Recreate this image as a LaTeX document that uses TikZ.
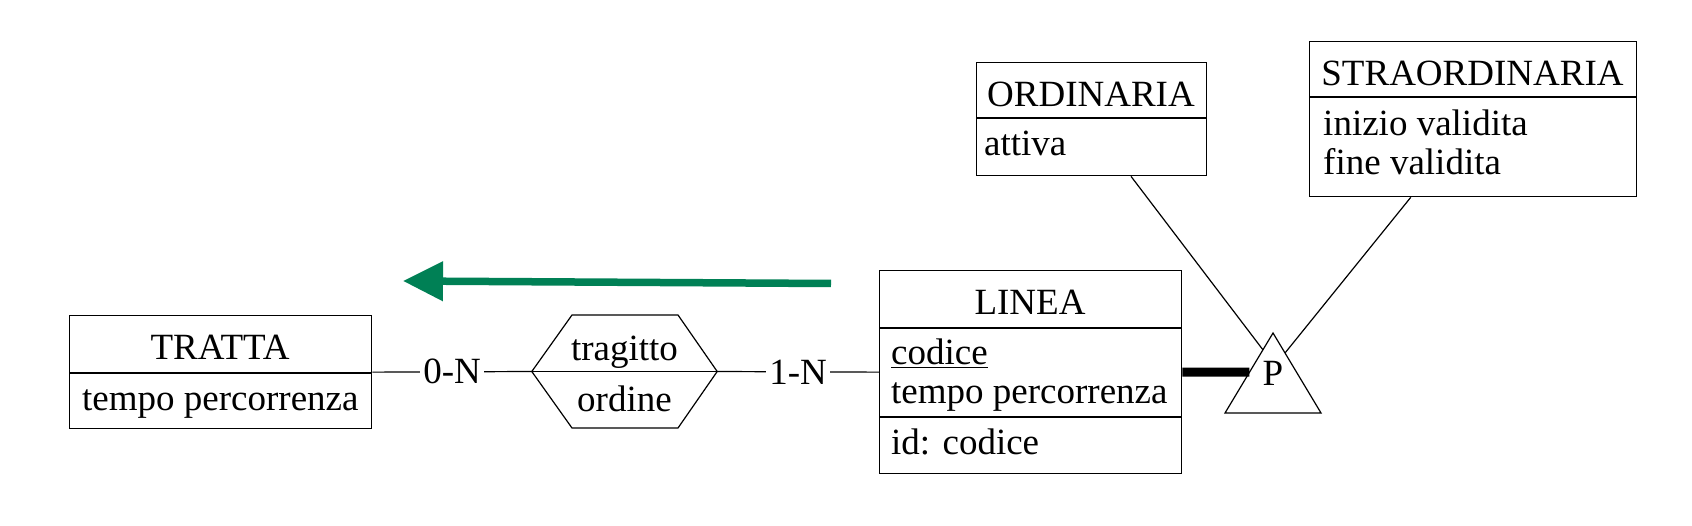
\documentclass[tikz,border=0pt]{standalone}
\usepackage{fontspec}
\setmainfont{Liberation Serif}
\usetikzlibrary{arrows.meta,calc}
\definecolor{arrowgreen}{RGB}{0,128,85}
\begin{document}
\begin{tikzpicture}[x=1pt,y=-1pt,
  font=\fontsize{37}{44}\selectfont,
  box/.style={draw, line width=1.3pt, inner sep=0pt, anchor=north west},
  ttl/.style={inner sep=0pt, anchor=base},
  attr/.style={inner sep=0pt, anchor=base west},
  conn/.style={line width=1.2pt},
  card/.style={fill=white, inner sep=3pt},
  thickconn/.style={line width=9pt},
  bigarrow/.style={line width=7.5pt, draw=arrowgreen, -{Triangle[length=40pt,width=38pt]}}]
\useasboundingbox (0,0) rectangle (1692,526);

% TRATTA
\node[box, minimum width=302pt, minimum height=113pt] (tratta) at (69,315) {};
\draw[conn] (69,373) -- (371,373);
\node[ttl] (trattaT) at (220,360) {TRATTA};
\node[attr] (trattaA) at (82,410) {tempo percorrenza};

% relationship tragitto
\node[minimum width=185pt, minimum height=113pt, inner sep=0pt] (hex) at (624.5,371.5) {};
\draw[conn] (hex.west) -- (572,315) -- (678,315) -- (hex.east) -- (678,428) -- (572,428) -- cycle;
\draw[conn] (hex.west) -- (hex.east);
\node[ttl] (hexT) at (624.5,361) {tragitto};
\node[ttl] (hexA) at (624.5,411) {ordine};

% LINEA
\node[box, minimum width=302pt, minimum height=203pt] (linea) at (879,270) {};
\draw[conn] (879,328) -- (1181,328);
\draw[conn] (879,417) -- (1181,417);
\node[ttl] (lineaT) at (1030,315) {LINEA};
\node[attr] (lineaA1) at (891,365) {\underline{codice}};
\node[attr] (lineaA2) at (891,403) {tempo percorrenza};
\node[attr] (lineaA3) at (891,454) {id: codice};

% ORDINARIA
\node[box, minimum width=230pt, minimum height=113pt] (ord) at (976,62) {};
\draw[conn] (976,118) -- (1206,118);
\node[ttl] (ordT) at (1091,107) {ORDINARIA};
\node[attr] (ordA) at (984,156) {attiva};

% STRAORDINARIA
\node[box, minimum width=327pt, minimum height=155pt] (str) at (1309,41) {};
\draw[conn] (1309,97) -- (1636,97);
\node[ttl] (strT) at (1472.5,86) {STRAORDINARIA};
\node[attr] (strA1) at (1323,136) {inizio validita};
\node[attr] (strA2) at (1323,175) {fine validita};

% generalization triangle
\coordinate (isaTop) at (1273,333);
\coordinate (isaL) at (1225,413);
\coordinate (isaR) at (1321,413);
\draw[conn] (isaTop) -- (isaL) -- (isaR) -- cycle;
\node[ttl] (isaP) at (1273,386) {P};

% connectors
\draw[conn] (tratta.east) -- node[card] (c1) {0-N} (hex.west);
\draw[conn] (hex.east) -- node[card] (c2) {1-N} (linea.west);
\draw[thickconn] (linea.east) -- ($(isaTop)!0.49!(isaL)$);
\draw[conn] ($(ord.south west)!0.67!(ord.south east)$) -- ($(isaTop)!0.21!(isaL)$);
\draw[conn] ($(str.south west)!0.31!(str.south east)$) -- ($(isaTop)!0.25!(isaR)$);

% green arrow
\coordinate (gaStart) at (831,283.5);
\coordinate (gaEnd) at (403,281);
\draw[bigarrow] (gaStart) -- (gaEnd);
\end{tikzpicture}
\end{document}
